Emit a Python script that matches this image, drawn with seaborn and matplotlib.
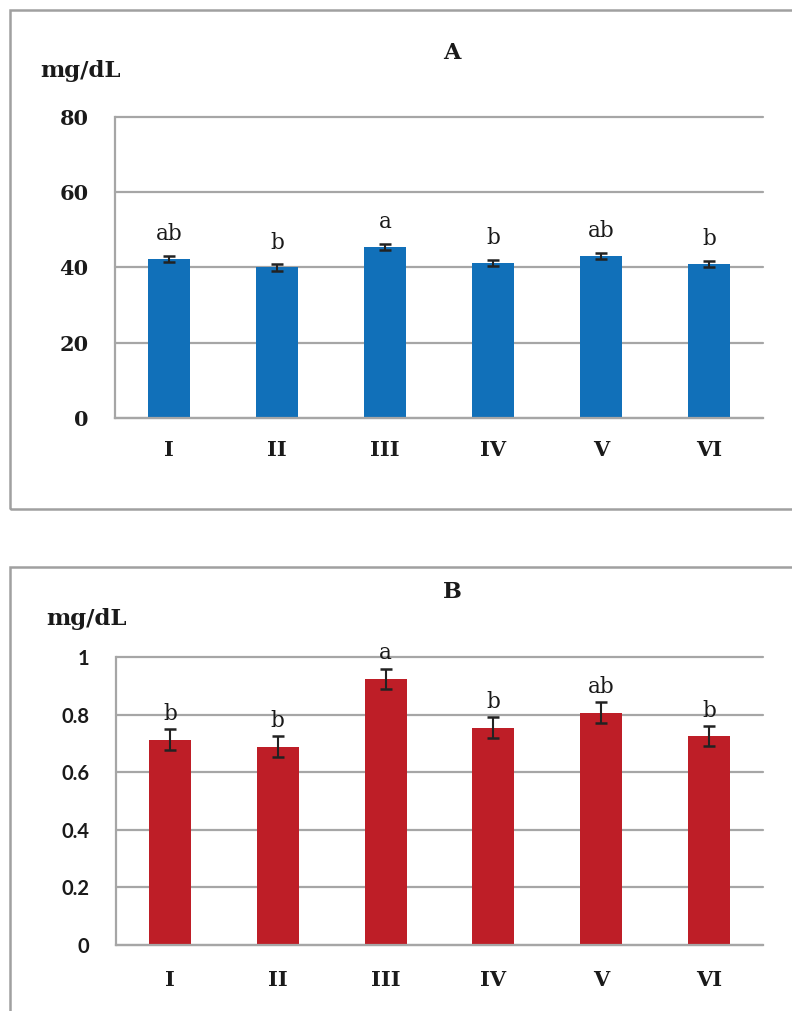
import matplotlib
matplotlib.use("Agg")
import matplotlib.pyplot as plt
import seaborn as sns
import pandas as pd
import numpy as np
from matplotlib.patches import Rectangle

# ---------------- data ----------------
groups = ["I", "II", "III", "IV", "V", "VI"]

a_values = [42.3, 40.0, 45.4, 41.3, 43.1, 41.0]
a_errors = [0.8, 0.8, 0.75, 0.8, 0.8, 0.8]
a_letters = ["ab", "b", "a", "b", "ab", "b"]
a_yticks = [0, 20, 40, 60, 80]
a_yticklabels = ["0", "20", "40", "60", "80"]

b_values = [0.713, 0.689, 0.924, 0.755, 0.807, 0.726]
b_errors = [0.036, 0.035, 0.036, 0.035, 0.036, 0.036]
b_letters = ["b", "b", "a", "b", "ab", "b"]
b_yticks = [0, 0.2, 0.4, 0.6, 0.8, 1.0]
b_yticklabels = ["0", "0.2", "0.4", "0.6", "0.8", "1"]

unit_label = "mg/dL"
titles = ["A", "B"]

# ---------------- style ----------------
sns.set_style("white")
plt.rcParams["font.family"] = ["DejaVu Serif", "DejaVu Sans"]

W, H = 792, 1011
fig = plt.figure(figsize=(W / 100, H / 100), dpi=100)
GRID = "#a6a6a6"
FRAME = "#a0a0a0"


def px_rect(l, t, r, b):
    return [l / W, 1 - b / H, (r - l) / W, (b - t) / H]


# outer frames
fig.add_artist(Rectangle((10 / W, 1 - 509 / H), (820 - 10) / W, (509 - 10) / H,
                         transform=fig.transFigure, fill=False, ec=FRAME, lw=1.8))
fig.add_artist(Rectangle((10 / W, 1 - 1040 / H), (820 - 10) / W, (1040 - 567) / H,
                         transform=fig.transFigure, fill=False, ec=FRAME, lw=1.8))


def panel(rect, values, errors, letters, color, yticks, yticklabels, ylim,
          ytick_font, gap_pt, xpad):
    ax = fig.add_axes(rect)
    df = pd.DataFrame({"group": groups, "value": values})
    sns.barplot(data=df, x="group", y="value", color=color, width=0.39,
                errorbar=None, saturation=1, linewidth=0, ax=ax, zorder=2)
    ax.errorbar(np.arange(len(groups)), values, yerr=errors, fmt="none",
                ecolor="#222222", elinewidth=1.5, capsize=4.5, capthick=1.8,
                zorder=3)
    for i, (v, e, lt) in enumerate(zip(values, errors, letters)):
        ax.annotate(lt, xy=(i, v + e), xytext=(0, gap_pt),
                    textcoords="offset points", ha="center", va="baseline",
                    fontsize=15.5, family="DejaVu Serif", color="#1a1a1a")
    ax.set_xlim(-0.5, len(groups) - 0.5)
    ax.set_ylim(*ylim)
    ax.set_yticks(yticks)
    ax.set_yticklabels(yticklabels, **ytick_font)
    ax.set_xticks(np.arange(len(groups)))
    ax.set_xticklabels(groups, fontsize=15, fontweight="bold",
                       family="DejaVu Serif", color="#1a1a1a")
    ax.set_xticks(np.arange(-0.5, len(groups), 1), minor=True)
    ax.tick_params(axis="x", which="major", length=0, pad=xpad)
    ax.tick_params(axis="x", which="minor", length=6, width=1.5,
                   color=GRID, direction="out")
    ax.tick_params(axis="y", which="major", length=8, width=1.5,
                   color=GRID, direction="out", pad=11)
    ax.yaxis.grid(True, color=GRID, lw=1.6)
    for gl in ax.get_ygridlines():
        gl.set_clip_on(False)
    ax.xaxis.grid(False)
    ax.set_axisbelow(True)
    for s in ["top", "right"]:
        ax.spines[s].set_visible(False)
    for s in ["left", "bottom"]:
        ax.spines[s].set_color(GRID)
        ax.spines[s].set_linewidth(1.6)
    ax.set_xlabel("")
    ax.set_ylabel("")
    return ax


panel(px_rect(115, 117, 763, 418), a_values, a_errors, a_letters, "#1170B9",
      a_yticks, a_yticklabels, (0, 80),
      dict(fontsize=15, fontweight="bold", family="DejaVu Serif", color="#1a1a1a"),
      gap_pt=11.5, xpad=16)

panel(px_rect(116, 657, 763, 945), b_values, b_errors, b_letters, "#BE1E27",
      b_yticks, b_yticklabels, (0, 1.0),
      dict(fontsize=14.5, fontweight="bold", family="Lato", color="#1a1a1a"),
      gap_pt=6.5, xpad=18)

# titles and unit labels
fig.text(452 / W, 1 - 53 / H, titles[0], ha="center", va="center",
         fontsize=16, fontweight="bold", family="DejaVu Serif", color="#1a1a1a")
fig.text(452 / W, 1 - 592 / H, titles[1], ha="center", va="center",
         fontsize=16, fontweight="bold", family="DejaVu Serif", color="#1a1a1a")
fig.text(40 / W, 1 - 77 / H, unit_label, ha="left", va="baseline",
         fontsize=16.5, fontweight="bold", family="DejaVu Serif", color="#1a1a1a")
fig.text(46 / W, 1 - 625 / H, unit_label, ha="left", va="baseline",
         fontsize=16.5, fontweight="bold", family="DejaVu Serif", color="#1a1a1a")

fig.savefig("out.png", dpi=100)
